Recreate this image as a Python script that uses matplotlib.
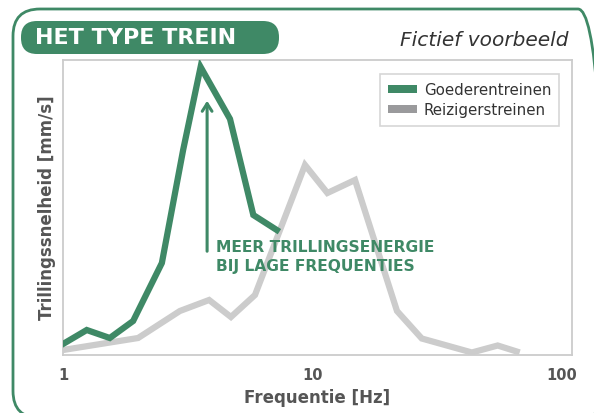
import numpy as np
import matplotlib.pyplot as plt
from matplotlib.patches import FancyBboxPatch, Patch

# data (arbitrary velocity units)
freq_goederen = [1.0, 1.245, 1.54, 1.91, 2.49, 3.03, 3.56, 4.67, 5.79, 7.19]
v_goederen = [11, 25, 17, 34, 92, 205, 288, 236, 140, 125]

freq_reiziger = [1.0, 2.0, 2.94, 3.85, 4.71, 5.88, 9.33, 11.47, 14.8, 21.8, 27.4, 43.5, 55.2, 65.8]
v_reiziger = [5, 17, 44, 55, 38, 60, 190, 162, 175, 44, 16.5, 2.5, 9.5, 3.5]

xticks = [1, 10, 100]
xticklabels = ['1', '10', '100']

green = '#3f8966'
grey_line = '#cccccc'
grey_legend = '#9a9a9c'
text_grey = '#555555'

fig = plt.figure(figsize=(5.94, 4.13), dpi=100)

# outer rounded frame (runs off the right and bottom edge), in inches
frame = FancyBboxPatch((0.13, 4.13 - 4.18), 6.05 - 0.13, 4.18 - 0.09,
                       boxstyle='round,pad=0,rounding_size=0.27',
                       transform=fig.dpi_scale_trans, fill=False,
                       edgecolor=green, linewidth=2.0, clip_on=False)
fig.patches.append(frame)

# title pill
pill = FancyBboxPatch((0.21, 4.13 - 0.54), 2.79 - 0.21, 0.54 - 0.21,
                      boxstyle='round,pad=0,rounding_size=0.16',
                      transform=fig.dpi_scale_trans, facecolor=green,
                      edgecolor='none')
fig.patches.append(pill)
fig.text(35/594, 1 - 38/413, 'HET TYPE TREIN', color='white',
         fontsize=16, fontweight='heavy', va='center', ha='left')
fig.text(568/594, 1 - 41/413, 'Fictief voorbeeld', color='#333333',
         fontsize=14.5, style='italic', va='center', ha='right')

ax = fig.add_axes([63/594, 1 - 355/413, (572-63)/594, (355-60)/413])
ax.plot(freq_reiziger, v_reiziger, color=grey_line, linewidth=4.5,
        solid_joinstyle='miter', zorder=2)
ax.plot(freq_goederen, v_goederen, color=green, linewidth=4.5,
        solid_joinstyle='miter', zorder=3)

ax.set_xscale('log')
ax.set_xlim(1, 109.6)
ax.set_ylim(0, 295)
ax.set_yticks([])
ax.set_xticks(xticks)
ax.set_xticklabels(xticklabels)
ax.xaxis.set_minor_locator(plt.FixedLocator([100]))
ax.tick_params(axis='x', which='major', length=0, pad=9,
               labelsize=10.5, labelcolor=text_grey)
ax.tick_params(axis='x', which='minor', length=5, direction='in',
               color=grey_line, width=1.2)
for lbl in ax.get_xticklabels():
    lbl.set_fontweight('bold')
for sp in ax.spines.values():
    sp.set_color(grey_line)
    sp.set_linewidth(1.3)

ax.set_xlabel('Frequentie [Hz]', fontsize=12, fontweight='bold',
              color=text_grey, labelpad=5)
ax.set_ylabel('Trillingssnelheid [mm/s]', fontsize=12, fontweight='bold',
              color=text_grey, labelpad=5)

# arrow + annotation
ax.annotate('', xy=(3.78, 257), xytext=(3.78, 101),
            arrowprops=dict(arrowstyle='->,head_length=0.55,head_width=0.35',
                            color=green, lw=2.2))
ax.text(4.1, 98, 'MEER TRILLINGSENERGIE\nBIJ LAGE FREQUENTIES',
        color=green, fontsize=11.2, fontweight='heavy', va='center',
        ha='left', linespacing=1.3)

handles = [Patch(facecolor=green, edgecolor='none', label='Goederentreinen'),
           Patch(facecolor=grey_legend, edgecolor='none', label='Reizigerstreinen')]
leg = ax.legend(handles=handles, loc='upper right', fontsize=10.8,
                frameon=True, fancybox=False, edgecolor=grey_line,
                handlelength=1.9, handleheight=0.45, handletextpad=0.45,
                borderpad=0.55, labelspacing=0.35,
                bbox_to_anchor=(0.99, 0.977))
leg.get_frame().set_linewidth(1.2)
for t in leg.get_texts():
    t.set_color('#333333')

fig.savefig('out.png', dpi=100)
